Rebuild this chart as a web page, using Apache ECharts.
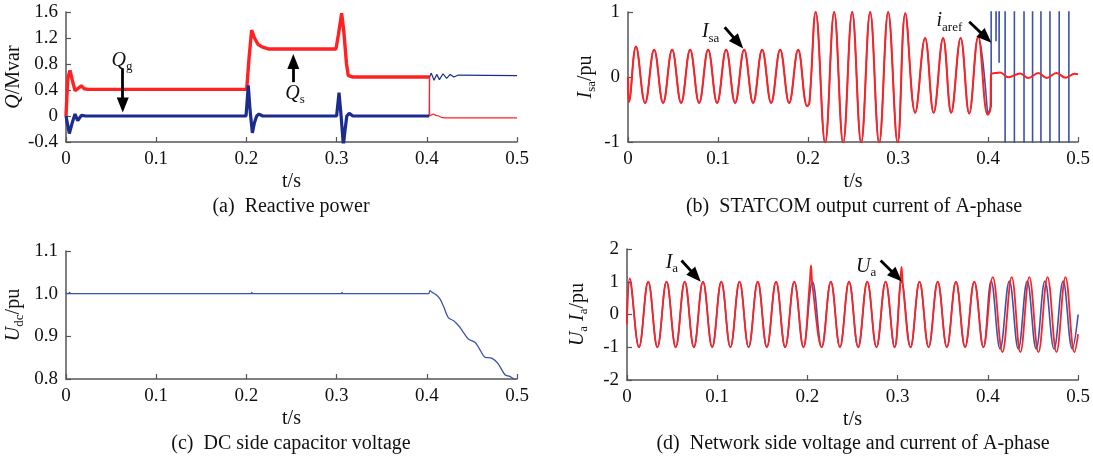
<!DOCTYPE html>
<html>
<head>
<meta charset="utf-8">
<script src="https://cdn.jsdelivr.net/npm/echarts@6/dist/echarts.min.js"></script>
<style>
  html, body { margin: 0; padding: 0; background: #fff; }
  #chart { width: 1093px; height: 458px; }
</style>
</head>
<body>
<div id="chart"></div>
<script>
// ---- axis ticks ----
const timeTicks = [0, 0.1, 0.2, 0.3, 0.4, 0.5];
const qTicks = [-0.4, 0, 0.4, 0.8, 1.2, 1.6];
const isaTicks = [-1, 0, 1];
const udcTicks = [0.8, 0.9, 1.0, 1.1];
const uiTicks = [-2, -1, 0, 1, 2];

// ---- (a) reactive power, [t (s), Q (Mvar)] ----
const qsBefore = [[0,0],[0.002,0.58],[0.0044,0.70],[0.007,0.55],[0.010,0.39],[0.013,0.42],[0.017,0.465],[0.020,0.42],[0.025,0.41],
  [0.2003,0.41],[0.203,0.9],[0.2058,1.32],[0.209,1.2],[0.213,1.1],[0.218,1.06],[0.225,1.03],
  [0.2993,1.03],[0.302,1.25],[0.3056,1.58],[0.308,1.3],[0.311,0.8],[0.313,0.62],[0.318,0.6],[0.4029,0.6]];
const qsAfter = [[0.4029,0.6],[0.4031,0.0],[0.407,0.03],[0.410,0.01],[0.413,0.0],[0.416,-0.02],[0.420,-0.03],[0.5,-0.03]];
const qgBefore = [[0,0],[0.0037,-0.27],[0.007,-0.1],[0.010,0.03],[0.013,-0.07],[0.017,0.01],[0.022,0],
  [0.1996,0],[0.2021,0.47],[0.204,0.1],[0.2066,-0.26],[0.209,-0.1],[0.2114,0.0],[0.214,0.03],[0.218,0],
  [0.300,0],[0.3027,0.36],[0.305,0],[0.3075,-0.45],[0.3095,-0.2],[0.3113,0],[0.314,0.04],[0.318,0],[0.4027,0]];
const qgAfter = [[0.4027,0],[0.4031,0.6],[0.405,0.66],[0.408,0.55],[0.411,0.64],[0.414,0.56],[0.418,0.65],[0.422,0.58],
  [0.426,0.64],[0.430,0.6],[0.435,0.63],[0.5,0.62]];

// ---- (b) STATCOM current of phase A, [t, pu] (half-cycle extremes) ----
const isa = [[0,0],[0.0012,-0.38],[0.0088,0.47],[0.019,-0.4],[0.029,0.42],[0.039,-0.4],[0.049,0.42],[0.059,-0.4],
  [0.069,0.42],[0.079,-0.4],[0.089,0.42],[0.099,-0.4],[0.109,0.42],[0.119,-0.4],[0.129,0.42],[0.139,-0.4],
  [0.149,0.42],[0.159,-0.4],[0.169,0.42],[0.179,-0.4],[0.189,0.42],[0.199,-0.45],[0.2015,-0.4],
  [0.2085,1.0],[0.219,-1.02],[0.229,1.0],[0.239,-1.02],[0.249,1.0],[0.259,-1.02],[0.269,1.0],[0.279,-1.02],
  [0.289,1.0],[0.2995,-1.02],[0.308,0.98],[0.319,-0.55],[0.330,0.6],[0.3395,-0.55],[0.350,0.6],[0.359,-0.55],
  [0.3695,0.6],[0.379,-0.56],[0.389,0.62],[0.3995,-0.58],[0.4025,-0.5],[0.4034,0.045],[0.408,0.06],
  [0.4133,0.07],[0.4226,-0.005],[0.4355,0.055],[0.4447,-0.015],[0.4558,0.06],[0.465,-0.015],[0.476,0.06],
  [0.486,-0.01],[0.4963,0.05],[0.5,0.04]];
const irefBefore = isa.slice(0, isa.findIndex(p => p[0] >= 0.3995) + 1);
const irefAfter = [[0.3995,-0.58],[0.4034,-0.45],[0.4034,1.5],[0.4088,1.5],[0.4088,0.55],[0.409,1.5],
  [0.4122,1.5],[0.4122,0.22],[0.4124,1.5],[0.4189,1.5],[0.4189,-1.5],[0.4292,-1.5],[0.4292,1.5],
  [0.4399,1.5],[0.4399,-1.5],[0.4494,-1.5],[0.4494,1.5],[0.4587,1.5],[0.4587,-1.5],[0.4687,-1.5],
  [0.4687,1.5],[0.479,1.5],[0.479,-1.5],[0.4897,-1.5],[0.4897,1.5],[0.5,1.5]];

// ---- (c) DC side capacitor voltage, [t, pu] ----
const udc = [[0,1.0],[0.003,1.0],[0.004,1.003],[0.005,1.0],[0.205,1.0],[0.206,1.003],[0.207,1.0],
  [0.305,1.0],[0.306,1.003],[0.307,1.0],[0.402,1.0],[0.4035,1.007],[0.406,1.003],[0.410,0.998],
  [0.4146,0.988],[0.419,0.968],[0.4238,0.944],[0.4294,0.937],[0.433,0.93],[0.4368,0.921],[0.441,0.908],
  [0.446,0.894],[0.4534,0.886],[0.458,0.872],[0.4645,0.851],[0.4719,0.849],[0.479,0.836],[0.4867,0.81],
  [0.492,0.806],[0.4978,0.798],[0.5,0.794]];

// ---- (d) network side voltage and current of phase A, [t, pu] (half-cycle extremes) ----
const ia = [[0,-0.3],[0.003,1.1],[0.0133,-1.0],[0.0235,1.0],[0.0337,-1.0],[0.0438,1.0],[0.054,-1.0],[0.064,1.0],
  [0.0741,-1.0],[0.0842,1.0],[0.0944,-1.0],[0.1045,1.0],[0.1146,-1.0],[0.1247,1.0],[0.1348,-1.0],[0.1449,1.0],
  [0.155,-1.0],[0.1652,1.0],[0.1753,-1.0],[0.1854,1.0],[0.1955,-1.0],[0.2025,0.95],[0.2039,1.5],[0.2055,0.9],
  [0.2158,-1.0],[0.2259,1.0],[0.236,-1.0],[0.2461,1.0],[0.2562,-1.0],[0.2663,1.0],[0.2765,-1.0],[0.2866,1.0],
  [0.2966,-1.0],[0.3028,0.95],[0.3043,1.45],[0.3058,0.9],[0.3143,-1.0],[0.3242,1.0],[0.3343,-1.0],[0.3444,1.0],
  [0.3545,-1.0],[0.3646,1.0],[0.3747,-1.0],[0.3849,1.0],[0.395,-1.0],[0.4054,1.14],[0.4161,-1.15],[0.4264,1.14],
  [0.436,-1.15],[0.4459,1.14],[0.456,-1.15],[0.4661,1.14],[0.476,-1.15],[0.486,1.14],[0.496,-1.15],[0.5,-0.6]];
const ua = [[0,-0.2],[0.003,1.0],[0.0133,-1.0],[0.0235,1.0],[0.0337,-1.0],[0.0438,1.0],[0.054,-1.0],[0.064,1.0],
  [0.0741,-1.0],[0.0842,1.0],[0.0944,-1.0],[0.1045,1.0],[0.1146,-1.0],[0.1247,1.0],[0.1348,-1.0],[0.1449,1.0],
  [0.155,-1.0],[0.1652,1.0],[0.1753,-1.0],[0.1854,1.0],[0.1955,-1.0],[0.2056,1.0],[0.2158,-1.0],[0.2259,1.0],
  [0.236,-1.0],[0.2461,1.0],[0.2562,-1.0],[0.2663,1.0],[0.2765,-1.0],[0.2866,1.0],[0.2966,-1.0],[0.3043,1.0],
  [0.3143,-1.0],[0.3242,1.0],[0.3343,-1.0],[0.3444,1.0],[0.3545,-1.0],[0.3646,1.0],[0.3747,-1.0],[0.3849,1.0],
  [0.395,-1.0],[0.4036,1.02],[0.4135,-1.05],[0.4238,1.02],[0.4337,-1.05],[0.4436,1.02],[0.4535,-1.05],
  [0.4632,1.02],[0.4733,-1.05],[0.4834,1.02],[0.4935,-1.05],[0.5,0.0]];

// ---- annotation arrows [t0, v0, t1, v1] and label anchors [t, v] ----
const arrowQg = [0.0629, 0.73, 0.0629, 0.17];
const arrowQs = [0.252, 0.52, 0.252, 0.84];
const arrowIsa = [0.1074, 0.765, 0.1225, 0.526];
const arrowIref = [0.379, 0.85, 0.3976, 0.606];
const arrowIa = [0.0604, 1.65, 0.0762, 1.17];
const arrowUa = [0.2811, 1.65, 0.2988, 1.17];
const labelQg = [0.062, 0.85];
const labelQs = [0.254, 0.34];
const labelIsa = [0.0918, 0.69];
const labelIref = [0.357, 0.86];
const labelIa = [0.0497, 1.59];
const labelUa = [0.265, 1.47];

// ---- styling ----
const SERIF = '"Liberation Serif", "Times New Roman", serif';
const INK = '#111';
const AXIS = '#555';
const RED = '#ff2222';
const NAVY = '#1c2c8e';
const BLUE = '#3e52aa';

const rich = {
  i: { fontFamily: SERIF, fontStyle: 'italic', fontSize: 20, color: INK },
  n: { fontFamily: SERIF, fontSize: 20, color: INK },
  s: { fontFamily: SERIF, fontSize: 13, color: INK, padding: [12, 0, 0, 0] }
};

function xAxisCfg(gridIndex) {
  return {
    type: 'value', gridIndex, min: timeTicks[0], max: timeTicks[timeTicks.length - 1],
    interval: timeTicks[1] - timeTicks[0],
    name: 't/s', nameLocation: 'middle', nameGap: 30,
    nameTextStyle: { fontFamily: SERIF, fontSize: 20, color: INK },
    axisLine: { onZero: false, lineStyle: { color: AXIS, width: 1.5 } },
    axisTick: { inside: true, length: 5, lineStyle: { color: AXIS, width: 1.2 } },
    axisLabel: { fontFamily: SERIF, fontSize: 19, color: INK, margin: 8,
      formatter: v => (v === 0 ? '0' : v.toFixed(1)) },
    splitLine: { show: false }
  };
}
function yAxisCfg(gridIndex, ticks, name, gap, fmt) {
  return {
    type: 'value', gridIndex, min: ticks[0], max: ticks[ticks.length - 1],
    interval: ticks[1] - ticks[0],
    name, nameLocation: 'middle', nameGap: gap, nameRotate: 90,
    nameTextStyle: { rich },
    axisLine: { show: true, onZero: false, lineStyle: { color: AXIS, width: 1.5 } },
    axisTick: { show: true, inside: true, length: 5, lineStyle: { color: AXIS, width: 1.2 } },
    axisLabel: { fontFamily: SERIF, fontSize: 19, color: INK, margin: 8, formatter: fmt },
    splitLine: { show: false }
  };
}
function line(axis, data, color, width, smooth) {
  return {
    type: 'line', xAxisIndex: axis, yAxisIndex: axis, data,
    symbol: 'none', showSymbol: false, smooth, clip: true, silent: true,
    lineStyle: { color, width }, itemStyle: { color }, animation: false
  };
}
function arrow(a) {
  return [{ coord: [a[0], a[1]] }, { coord: [a[2], a[3]] }];
}
function markArrows(list) {
  return {
    silent: true, animation: false, symbol: ['none', 'triangle'], symbolSize: [12, 15],
    label: { show: false }, emphasis: { disabled: true },
    lineStyle: { color: '#000', width: 2.8, type: 'solid' },
    itemStyle: { color: '#000' },
    data: list.map(arrow)
  };
}
function markLabels(list) {
  return {
    silent: true, animation: false,
    data: list.map(([pos, text]) => ({
      coord: pos, symbol: 'circle', symbolSize: 1,
      itemStyle: { color: 'rgba(0,0,0,0)' },
      label: { show: true, position: 'inside', formatter: text, rich }
    }))
  };
}
const num = v => String(Math.round(v * 10) / 10);
const fixed1 = v => v.toFixed(1);

// ---- series ----
const sQsBefore = line(0, qsBefore, RED, 3.4, false);
const sQgBefore = line(0, qgBefore, NAVY, 3.2, false);
sQgBefore.markLine = markArrows([arrowQg, arrowQs]);
sQgBefore.markPoint = markLabels([[labelQg, '{i|Q}{s|g}'], [labelQs, '{i|Q}{s|s}']]);
const sQgAfter = line(0, qgAfter, NAVY, 1.2, false);
const sQsAfter = line(0, qsAfter, RED, 1.2, false);

const sIrefBefore = line(1, irefBefore, BLUE, 1.5, 0.4);
const sIrefAfter = line(1, irefAfter, BLUE, 1.6, false);
const sIsa = line(1, isa, RED, 2, 0.4);
sIsa.markLine = markArrows([arrowIsa, arrowIref]);
sIsa.markPoint = markLabels([[labelIsa, '{i|I}{s|sa}'], [labelIref, '{i|i}{s|aref}']]);

const sUdc = line(2, udc, BLUE, 1.3, 0.3);

const sUa = line(3, ua, BLUE, 1.6, 0.4);
const sIa = line(3, ia, RED, 1.8, 0.4);
sIa.markLine = markArrows([arrowIa, arrowUa]);
sIa.markPoint = markLabels([[labelIa, '{i|I}{s|a}'], [labelUa, '{i|U}{s|a}']]);

// ---- captions ----
function caption(x, y, text) {
  return { type: 'text', x, y, silent: true,
    style: { text, fill: INK, font: '20px "Liberation Serif"', textAlign: 'center', textVerticalAlign: 'middle' } };
}

const option = {
  backgroundColor: '#fff',
  animation: false,
  grid: [
    { left: 66, top: 12, width: 451, height: 130 },
    { left: 628, top: 12, width: 452, height: 130 },
    { left: 66, top: 251, width: 451, height: 128 },
    { left: 627, top: 249, width: 453, height: 131 }
  ],
  xAxis: [xAxisCfg(0), xAxisCfg(1), xAxisCfg(2), xAxisCfg(3)],
  yAxis: [
    yAxisCfg(0, qTicks, '{i|Q}{n|/Mvar}', 41, num),
    yAxisCfg(1, isaTicks, '{i|I}{s|sa}{n|/pu}', 30, num),
    yAxisCfg(2, udcTicks, '{i|U}{s|dc}{n|/pu}', 40, fixed1),
    yAxisCfg(3, uiTicks, '{i|U}{s|a}{n| }{i|I}{s|a}{n|/pu}', 37, num)
  ],
  series: [sQsBefore, sQgBefore, sQgAfter, sQsAfter, sIrefBefore, sIrefAfter, sIsa, sUdc, sUa, sIa],
  graphic: [
    caption(291, 207, '(a)  Reactive power'),
    caption(854, 207, '(b)  STATCOM output current of A-phase'),
    caption(291, 444, '(c)  DC side capacitor voltage'),
    caption(853, 444, '(d)  Network side voltage and current of A-phase')
  ]
};

const chart = echarts.init(document.getElementById('chart'), null, { renderer: 'canvas' });
chart.setOption(option);
</script>
</body>
</html>
